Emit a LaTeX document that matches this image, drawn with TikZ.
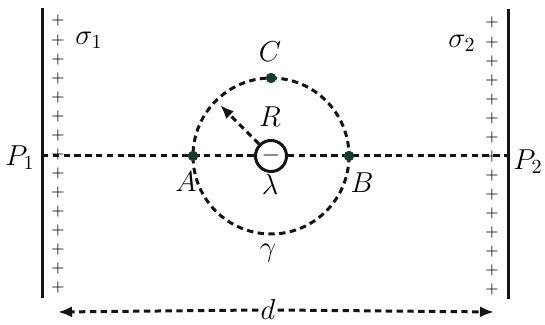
\documentclass[tikz,border=0pt]{standalone}
\usetikzlibrary{arrows.meta,positioning,calc}
\definecolor{plateink}{HTML}{141414}
\definecolor{dotink}{HTML}{163A2E}
\tikzset{
  plate/.style={plateink, line width=1.5pt},
  guide/.style={plateink, line width=1.5pt, dash pattern=on 3.2pt off 2.2pt},
  guide arrow/.style={guide, -{Latex[length=7pt,width=5.5pt]}},
  charge dot/.style={fill=dotink, circle, inner sep=0pt, minimum size=5.2pt},
  plus sign/.style={font=\footnotesize, inner sep=0pt},
  lbl/.style={font=\Large, inner sep=1pt},
}

\begin{document}
\begin{tikzpicture}[x=0.5pt, y=-0.5pt, line cap=butt]
  \useasboundingbox (0,0) rectangle (545,325);

  % plates with charges
  \draw[plate] (42,8) -- (42,298);
  \draw[plate] (508,9) -- (508,299);
  \foreach \i in {0,...,14} {
    \node[plus sign] at (58,{21+19.07*\i}) {$+$};
    \node[plus sign] at (492,{23+19.07*\i}) {$+$};
  }
  \node[lbl] (s1) at (89,40) {$\sigma_1$};
  \node[lbl] (s2) at (462,43) {$\sigma_2$};
  \node[lbl] (P1) at (20,158) {$P_1$};
  \node[lbl] (P2) at (528,162) {$P_2$};
  \coordinate (p1) at (42,156);
  \coordinate (p2) at (508,156);

  % line charge and loop
  \node[plate, circle, draw, minimum size=15.5pt, inner sep=0pt,
        font=\large] (lam) at (271,156) {$-$};
  \draw[guide] (271,156) circle[radius=78];
  \draw[guide] (p1) -- (lam.west);
  \draw[guide] (lam.east) -- (p2);
  \coordinate (rim) at ($(271,156)+(225:72)$);
  \draw[guide arrow] (lam.135) -- (rim);

  \node[charge dot] (A) at (193,156) {};
  \node[charge dot] (B) at (349,156) {};
  \node[charge dot] (C) at (271,78) {};
  \node[lbl] at (186,182) {$A$};
  \node[lbl] at (362,183) {$B$};
  \node[lbl] at (270,52) {$C$};
  \node[lbl] at (270,117) {$R$};
  \node[lbl] at (270,185) {$\lambda$};
  \node[lbl] at (268,253) {$\gamma$};

  % separation
  \node[lbl] (d) at (268,310) {$d$};
  \coordinate (dl) at (58,312);
  \coordinate (dr) at (494,312);
  \draw[guide arrow] (d.west) -- (dl);
  \draw[guide arrow] (d.east) -- (dr);
\end{tikzpicture}
\end{document}
